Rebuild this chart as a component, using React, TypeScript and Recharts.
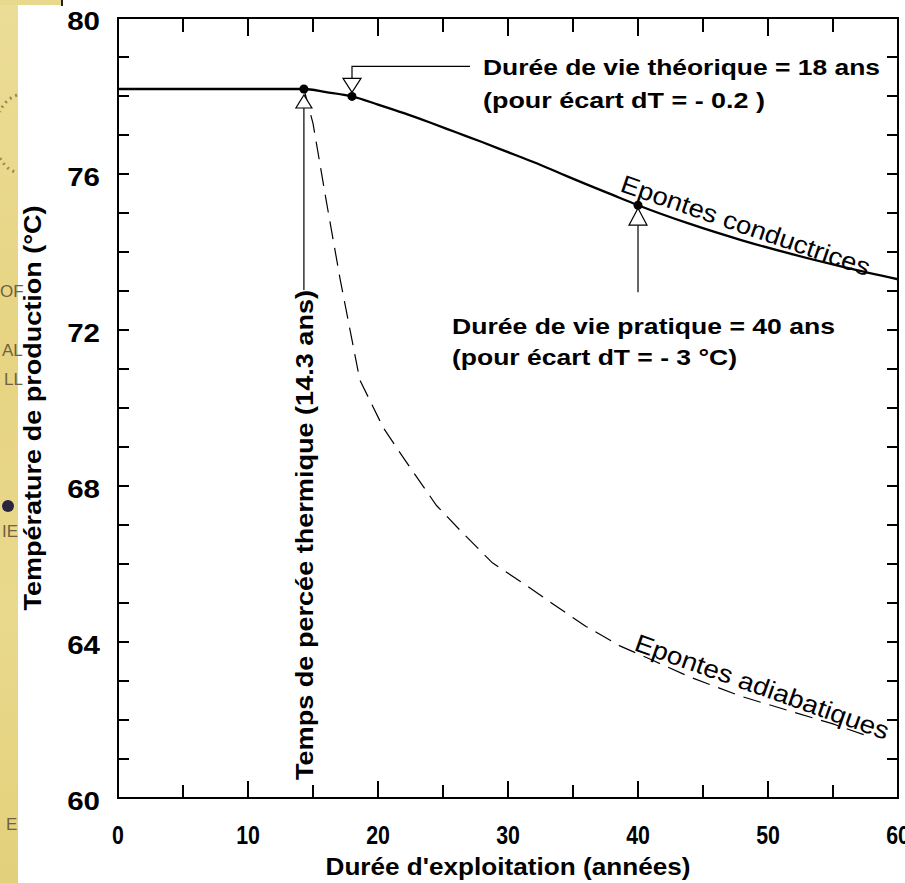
import { LineChart, Line, XAxis, YAxis, ReferenceDot } from "recharts";

// Conductive wall rocks (solid curve)
const condYears = [0, 5, 10, 14.3, 16, 18, 20, 22, 24, 26, 28, 30, 32, 34, 36, 38, 40, 44, 48, 52, 56, 60];
const condTemps = [78.18, 78.18, 78.18, 78.18, 78.1, 77.99, 77.78, 77.56, 77.32, 77.07, 76.82, 76.56, 76.3, 76.02, 75.74, 75.47, 75.2, 74.72, 74.3, 73.93, 73.6, 73.3];

// Adiabatic wall rocks (dashed curve)
const adiaYears = [14.3, 15, 16, 17.1, 18.6, 20.4, 22, 24.5, 26.5, 28.8, 31.2, 34, 36, 38.6, 41, 44, 48, 52, 55, 58];
const adiaTemps = [78.18, 77.3, 75.35, 73.28, 70.72, 69.5, 68.7, 67.5, 66.8, 66.03, 65.5, 64.85, 64.4, 63.9, 63.55, 63.1, 62.6, 62.2, 61.9, 61.55];

// marked points: breakthrough, theoretical life, practical life
const markYears = [14.3, 18, 40];
const markTemps = [78.18, 77.99, 75.2];

const xTicks = [0, 5, 10, 15, 20, 25, 30, 35, 40, 45, 50, 55, 60];
const yTicks = [60, 61, 62, 63, 64, 65, 66, 67, 68, 69, 70, 71, 72, 73, 74, 75, 76, 77, 78, 79, 80];
const yLabels = [60, 64, 68, 72, 76, 80];

const condData = condYears.map((x, i) => ({ x, t: condTemps[i] }));
const adiaData = adiaYears.map((x, i) => ({ x, t: adiaTemps[i] }));

const FONT = '"Liberation Sans", Arial, sans-serif';

const BottomTick = ({ x, y, payload }: any) => {
  const major = payload.value % 10 === 0;
  return (
    <g>
      <line x1={x} y1={y} x2={x} y2={y - (major ? 17 : 13)} stroke="#000" strokeWidth={2} />
      {major && (
        <g transform={`translate(${x},${y + 46}) scale(0.82,1)`}>
          <text x={0} y={0} textAnchor="middle" fontFamily={FONT} fontWeight="bold" fontSize={26} fill="#000">
            {payload.value}
          </text>
        </g>
      )}
    </g>
  );
};

const TopTick = ({ x, y, payload }: any) => {
  const major = payload.value % 10 === 0;
  return <line x1={x} y1={y} x2={x} y2={y + (major ? 18 : 14)} stroke="#000" strokeWidth={2} />;
};

const LeftTick = ({ x, y, payload }: any) => (
  <g>
    <line x1={x} y1={y} x2={x + 11} y2={y} stroke="#000" strokeWidth={2} />
    {yLabels.includes(payload.value) && (
      <g transform={`translate(${x - 18},${y + 12}) scale(1.18,1)`}>
        <text x={0} y={0} textAnchor="end" fontFamily={FONT} fontWeight="bold" fontSize={25} fill="#000">
          {payload.value}
        </text>
      </g>
    )}
  </g>
);

const RightTick = ({ x, y }: any) => <line x1={x} y1={y} x2={x - 11} y2={y} stroke="#000" strokeWidth={2} />;

const BreakMark = ({ cx, cy }: any) => (
  <g>
    <line x1={cx} y1={cy + 19} x2={cx} y2={cy + 201} stroke="#000" strokeWidth={1.2} />
    <polygon points={`${cx},${cy + 6} ${cx - 8},${cy + 19} ${cx + 8},${cy + 19}`} fill="#fff" stroke="#000" strokeWidth={1.2} />
    <circle cx={cx} cy={cy} r={4.5} fill="#000" />
  </g>
);

const TheoMark = ({ cx, cy }: any) => (
  <g>
    <polyline points={`${cx},${cy - 18} ${cx},${cy - 30} ${cx + 118},${cy - 30}`} fill="none" stroke="#000" strokeWidth={1.2} />
    <polygon points={`${cx},${cy - 4} ${cx - 9},${cy - 18} ${cx + 9},${cy - 18}`} fill="#fff" stroke="#000" strokeWidth={1.2} />
    <circle cx={cx} cy={cy} r={4.5} fill="#000" />
  </g>
);

const PracMark = ({ cx, cy }: any) => (
  <g>
    <line x1={cx} y1={cy + 20} x2={cx} y2={cy + 87} stroke="#000" strokeWidth={1.2} />
    <polygon points={`${cx},${cy + 3} ${cx - 9},${cy + 20} ${cx + 9},${cy + 20}`} fill="#fff" stroke="#000" strokeWidth={1.2} />
    <circle cx={cx} cy={cy} r={4.5} fill="#000" />
  </g>
);

const markShapes = [BreakMark, TheoMark, PracMark];

const txt = { fontFamily: FONT, fill: "#000" } as const;
const frame = { stroke: "#000", strokeWidth: 2, strokeLinecap: "square" } as const;

const App = () => {
  return (
    <div style={{ position: "absolute", left: 0, top: 0, width: 905, height: 883, background: "#fff", overflow: "hidden" }}>
      <div
        style={{
          position: "absolute",
          left: 0,
          top: 0,
          width: 18,
          height: 883,
          background: "linear-gradient(180deg, #ecdd97 0%, #e6d482 40%, #e9d98c 70%, #e3d07b 100%)",
        }}
      />
      <div style={{ position: "absolute", left: 0, top: 0, width: 62, height: 5, background: "#e9d98e" }} />
      <svg width={905} height={883} style={{ position: "absolute", left: 0, top: 0 }}>
        <line x1={62} y1={0} x2={62} y2={6} stroke="#222" strokeWidth={2} />
        <g fontFamily={FONT} fill="#6e6240" fontSize={17}>
          <text x={0} y={297}>OF</text>
          <text x={2} y={356}>AL</text>
          <text x={4} y={385}>LL</text>
          <text x={2} y={537}>IE</text>
          <text x={6} y={830}>E</text>
        </g>
        <circle cx={8} cy={506} r={6} fill="#2a2540" />
        <path d="M 17 95 Q 4 100 0 112 M 0 158 Q 8 172 18 172" fill="none" stroke="#9b8a50" strokeWidth={3} strokeDasharray="2 4" />
      </svg>
      <div style={{ position: "absolute", left: 0, top: 0 }}>
        <LineChart width={905} height={883} margin={{ top: 17, right: 6, bottom: 84, left: 117 }}>
          <XAxis
            dataKey="x"
            type="number"
            domain={[0, 60]}
            ticks={xTicks}
            height={1}
            tickSize={0}
            tickMargin={0}
            tick={<BottomTick />}
            axisLine={frame}
            interval={0}
            allowDataOverflow
          />
          <XAxis
            xAxisId="top"
            orientation="top"
            dataKey="x"
            type="number"
            domain={[0, 60]}
            ticks={xTicks}
            height={1}
            tickSize={0}
            tickMargin={0}
            tick={<TopTick />}
            axisLine={frame}
            interval={0}
            allowDataOverflow
          />
          <YAxis
            type="number"
            domain={[60, 80]}
            ticks={yTicks}
            width={1}
            tickSize={0}
            tickMargin={0}
            tick={<LeftTick />}
            axisLine={frame}
            interval={0}
            allowDataOverflow
          />
          <YAxis
            yAxisId="right"
            orientation="right"
            type="number"
            domain={[60, 80]}
            ticks={yTicks}
            width={1}
            tickSize={0}
            tickMargin={0}
            tick={<RightTick />}
            axisLine={frame}
            interval={0}
            allowDataOverflow
          />
          <Line
            data={adiaData}
            dataKey="t"
            type="linear"
            stroke="#000"
            strokeWidth={1.2}
            strokeDasharray="18 9"
            dot={false}
            isAnimationActive={false}
          />
          <Line
            data={condData}
            dataKey="t"
            type="monotone"
            stroke="#000"
            strokeWidth={2.3}
            dot={false}
            isAnimationActive={false}
          />
          {markYears.map((yr, i) => {
            const Shape = markShapes[i];
            return <ReferenceDot key={yr} x={yr} y={markTemps[i]} r={4} shape={(p: any) => <Shape {...p} />} />;
          })}
        </LineChart>
      </div>
      <svg width={905} height={883} style={{ position: "absolute", left: 0, top: 0, pointerEvents: "none" }}>
        <text {...txt} x={508} y={875} textAnchor="middle" fontWeight="bold" fontSize={24} textLength={365} lengthAdjust="spacingAndGlyphs">
          Durée d'exploitation (années)
        </text>
        <text
          {...txt}
          transform="translate(41,408) rotate(-90)"
          textAnchor="middle"
          fontWeight="bold"
          fontSize={23}
          textLength={405}
          lengthAdjust="spacingAndGlyphs"
        >
          Température de production (°C)
        </text>
        <text
          {...txt}
          transform="translate(313,535) rotate(-90)"
          textAnchor="middle"
          fontWeight="bold"
          fontSize={23}
          textLength={490}
          lengthAdjust="spacingAndGlyphs"
        >
          Temps de percée thermique (14.3 ans)
        </text>
        <text {...txt} x={483} y={75} fontWeight="bold" fontSize={22} textLength={397} lengthAdjust="spacingAndGlyphs">
          Durée de vie théorique = 18 ans
        </text>
        <text {...txt} x={483} y={108} fontWeight="bold" fontSize={22} textLength={282} lengthAdjust="spacingAndGlyphs">
          (pour écart dT = - 0.2 )
        </text>
        <text {...txt} x={452} y={334} fontWeight="bold" fontSize={22} textLength={383} lengthAdjust="spacingAndGlyphs">
          Durée de vie pratique = 40 ans
        </text>
        <text {...txt} x={452} y={365} fontWeight="bold" fontSize={22} textLength={285} lengthAdjust="spacingAndGlyphs">
          (pour écart dT = - 3 °C)
        </text>
        <text {...txt} transform="translate(619,191) rotate(19)" fontSize={25} textLength={262} lengthAdjust="spacingAndGlyphs">
          Epontes conductrices
        </text>
        <text {...txt} transform="translate(633,650) rotate(19.6)" fontSize={25} textLength={268} lengthAdjust="spacingAndGlyphs">
          Epontes adiabatiques
        </text>
      </svg>
    </div>
  );
};

export default App;
